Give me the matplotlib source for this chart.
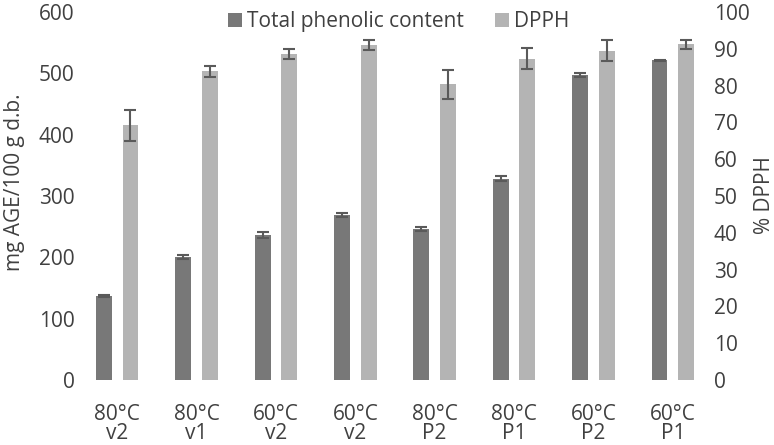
import matplotlib
matplotlib.use("Agg")
import matplotlib.pyplot as plt
import numpy as np

categories = ["80°C\nv2", "80°C\nv1", "60°C\nv2", "60°C\nv2", "80°C\nP2", "80°C\nP1", "60°C\nP2", "60°C\nP1"]
tpc = [137, 200, 236, 269, 246, 328, 497, 521]
tpc_err = [2, 3, 5, 4, 3, 4, 3, 1]
dpph = [69.2, 83.9, 88.6, 91.1, 80.3, 87.3, 89.5, 91.2]
dpph_err = [4.3, 1.5, 1.4, 1.4, 4.0, 2.9, 2.9, 1.3]

plt.rcParams['font.family'] = ['Open Sans', 'DejaVu Sans']
txt = '#404040'
fs = 15

fig = plt.figure(figsize=(7.74, 4.45), dpi=100)
ax = fig.add_axes([77.5/774, 65/445, 635/774, 368/445])
ax2 = ax.twinx()

x = np.arange(len(categories))
w = 0.2
off = 0.167
dark = '#787878'
light = '#b4b4b4'
ecol = '#5a5a5a'
ekw = dict(elinewidth=1.5, capthick=1.5, ecolor=ecol)
b1 = ax.bar(x - off, tpc, w, color=dark, yerr=tpc_err, capsize=4.5, error_kw=ekw, label='Total phenolic content')
b2 = ax2.bar(x + off, dpph, w, color=light, yerr=dpph_err, capsize=4.5, error_kw=ekw, label='DPPH')

ax.set_xlim(-0.5, len(categories) - 0.5)
ax.set_ylim(0, 600)
ax2.set_ylim(0, 100)
ax.set_yticks(np.arange(0, 601, 100))
ax2.set_yticks(np.arange(0, 101, 10))
ax.set_xticks(x)
ax.set_xticklabels(categories, fontsize=fs, color=txt, linespacing=0.88)

for a in (ax, ax2):
    for s in a.spines.values():
        s.set_visible(False)
    a.tick_params(length=0, labelsize=fs, labelcolor=txt)
ax.tick_params(axis='y', pad=2)
ax2.tick_params(axis='y', pad=1)
ax.tick_params(axis='x', pad=17)

ax.set_ylabel('mg AGE/100 g d.b.', fontsize=fs, color=txt)
ax2.set_ylabel('% DPPH', fontsize=fs, color=txt)
ax.yaxis.set_label_coords(-0.083, 0.538)
ax2.yaxis.set_label_coords(1.066, 0.503)

leg = fig.legend(handles=[b1, b2], labels=['Total phenolic content', 'DPPH'],
                 loc='center', bbox_to_anchor=(0.515, 0.951), ncol=2, frameon=False,
                 fontsize=fs, handlelength=0.65, handleheight=0.65, handletextpad=0.25,
                 columnspacing=1.5, labelcolor=txt)

fig.savefig('out.png', dpi=100)
